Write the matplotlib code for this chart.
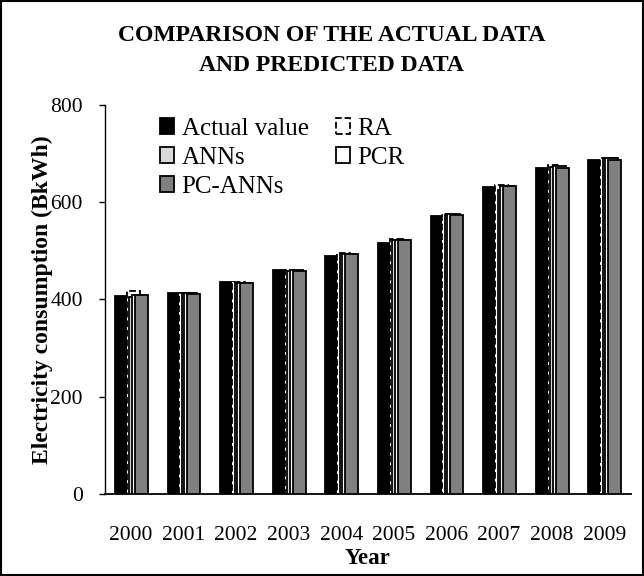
import matplotlib
matplotlib.use("Agg")
import matplotlib.pyplot as plt
from matplotlib.patches import Rectangle, Patch
import numpy as np

plt.rcParams['font.family'] = ['Liberation Serif', 'DejaVu Serif']

years = ['2000', '2001', '2002', '2003', '2004', '2005', '2006', '2007', '2008', '2009']
actual = [408, 414, 435, 461, 490, 517, 572, 631, 671, 687]
ra = [418, 414, 435, 460, 496, 525, 576, 636, 677, 691]
anns = [405, 413, 433, 459, 494, 522, 574, 626, 672, 690]
pcr = [410, 413, 434, 460, 494, 523, 575, 634, 675, 690]
pc_anns = [410, 412, 433, 459, 494, 523, 574, 634, 671, 686]

x = np.arange(len(years))
w = 0.247

fig = plt.figure(figsize=(6.44, 5.76), dpi=100)
ax = fig.add_axes([0.1623, 0.1424, 0.8168, 0.6753])

# overlapped bars, later series drawn on top
ax.bar(x - 0.30, actual, w, align='edge', color='black', edgecolor='black', lw=1.3, zorder=2)
ax.bar(x - 0.076, ra, w, align='edge', color='white', edgecolor='black', lw=1.3, ls='--', zorder=3)
ax.bar(x - 0.029, anns, w, align='edge', color='#d9d9d9', edgecolor='black', lw=1.3, zorder=4)
ax.bar(x + 0.019, pcr, w, align='edge', color='white', edgecolor='black', lw=1.3, zorder=5)
ax.bar(x + 0.076, pc_anns, w, align='edge', color='#808080', edgecolor='black', lw=1.3, zorder=6)

ax.set_xlim(-0.5, len(years) - 0.5)
ax.set_ylim(0, 800)
ax.set_yticks([0, 200, 400, 600, 800])
ax.set_xticks(x)
ax.set_xticklabels(years)
ax.tick_params(axis='x', length=0, labelsize=15.5, pad=23)
ax.tick_params(axis='y', length=4.5, width=1, labelsize=15.5, pad=11)
for s in ['top', 'right']:
    ax.spines[s].set_visible(False)
ax.spines['left'].set_linewidth(1)
ax.spines['bottom'].set_linewidth(1.3)

ax.set_xlabel('Year', fontsize=16.5, fontweight='bold', labelpad=2)
ax.set_ylabel('Electricity consumption (BkWh)', fontsize=17, fontweight='bold', labelpad=-2)
fig.text(0.515, 0.939, 'COMPARISON OF THE ACTUAL DATA', fontsize=17, fontweight='bold',
         ha='center', va='center')
fig.text(0.515, 0.887, 'AND PREDICTED DATA', fontsize=17, fontweight='bold',
         ha='center', va='center')

handles = [
    Patch(facecolor='black', edgecolor='black', lw=1.3, label='Actual value'),
    Patch(facecolor='#d9d9d9', edgecolor='black', lw=1.3, label='ANNs'),
    Patch(facecolor='#808080', edgecolor='black', lw=1.3, label='PC-ANNs'),
    Patch(facecolor='white', edgecolor='black', lw=1.3, ls='--', label='RA'),
    Patch(facecolor='white', edgecolor='black', lw=1.3, label='PCR'),
]
ax.legend(handles=handles, ncol=2, loc='upper left', bbox_to_anchor=(0.106, 0.967),
          frameon=False, fontsize=18, handlelength=0.55, handleheight=0.55,
          handletextpad=0.3, columnspacing=1.1, labelspacing=0.28, borderpad=0,
          borderaxespad=0)

fig.patches.append(Rectangle((0.002, 0.002), 0.996, 0.996, transform=fig.transFigure,
                             fill=False, edgecolor='black', lw=1.5))

fig.savefig('out.png', dpi=100)
